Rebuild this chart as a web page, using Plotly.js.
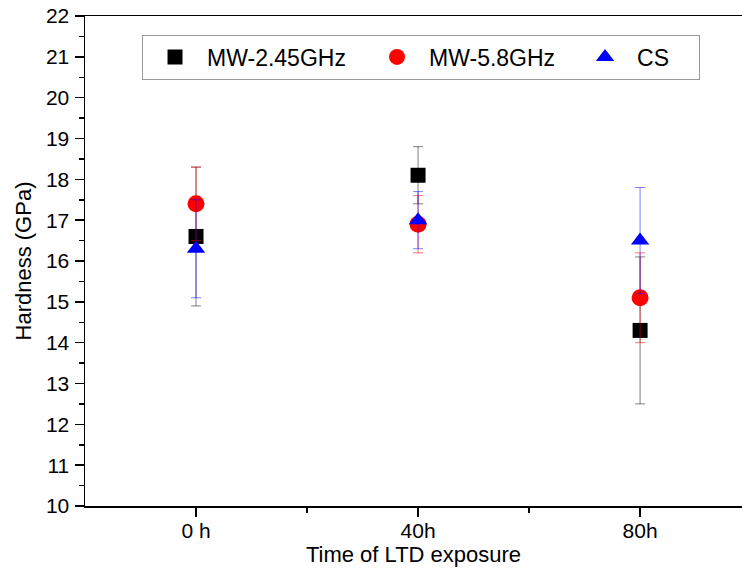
<!DOCTYPE html>
<html><head><meta charset="utf-8">
<script src="https://cdn.plot.ly/plotly-3.0.1.min.js"></script>
<style>html,body{margin:0;padding:0;background:#fff;overflow:hidden}#chart{width:742px;height:572px}</style>
</head><body><div id="chart"></div>
<script>
const categories = ['0 h', '40h', '80h'];
const catPos = [1, 2, 3];
const seriesNames = ['MW-2.45GHz', 'MW-5.8GHz', 'CS'];
const mw245 = [16.6, 18.1, 14.3];
const mw245Err = [1.7, 0.7, 1.8];
const mw58 = [17.4, 16.9, 15.1];
const mw58Err = [0.9, 0.7, 1.1];
const cs = [16.3, 17.0, 16.5];
const csErr = [1.2, 0.7, 1.3];

const FONT = '"Liberation Sans", Arial, sans-serif';

function mk(name, y, err, color, errColor, symbol, size, lw) {
  return {
    type: 'scatter', mode: 'markers', name: name,
    x: catPos, y: y,
    marker: {color: color, symbol: symbol, size: size, line: {width: 0}},
    error_y: {type: 'data', array: err, visible: true, color: errColor, thickness: 1, width: 5},
    legendwidth: lw
  };
}

const traces = [
  mk(seriesNames[0], mw245, mw245Err, '#000000', 'rgba(0,0,0,0.5)', 'square', 15, 153),
  mk(seriesNames[1], mw58, mw58Err, '#ff0000', 'rgba(255,0,0,0.55)', 'circle', 17, 139),
  mk(seriesNames[2], cs, csErr, '#0000ff', 'rgba(0,0,255,0.5)', 'triangle-up', 16, 57)
];

const layout = {
  width: 742, height: 572,
  margin: {l: 85, r: 0, t: 16, b: 66},
  paper_bgcolor: '#fff', plot_bgcolor: '#fff',
  font: {family: FONT, size: 21, color: '#000'},
  showlegend: true,
  legend: {orientation: 'h', x: 0.0868, xanchor: 'left', y: 0.9163, yanchor: 'middle',
    bordercolor: '#999', borderwidth: 1, bgcolor: '#fff', font: {family: FONT, size: 23}, itemwidth: 54},
  xaxis: {
    range: [0.5, 3.459], tickmode: 'array', tickvals: catPos, ticktext: categories,
    showgrid: false, zeroline: false, showline: true, linecolor: '#000', linewidth: 1.5, mirror: true,
    ticks: 'outside', ticklen: 9, tickwidth: 1.5, tickcolor: '#000',
    ticklabelstandoff: -4,
    tickfont: {family: FONT, size: 21},
    minor: {tickmode: 'array', tickvals: [1.5, 2.5], ticks: 'outside', ticklen: 5, tickwidth: 1.5, tickcolor: '#000'},
    title: {text: 'Time of LTD exposure', font: {family: FONT, size: 22}, standoff: 3}
  },
  yaxis: {
    range: [10, 22], tickmode: 'linear', tick0: 10, dtick: 1,
    showgrid: false, zeroline: false, showline: true, linecolor: '#000', linewidth: 1.5, mirror: false,
    ticks: 'outside', ticklen: 9, tickwidth: 1.5, tickcolor: '#000',
    ticklabelstandoff: 1,
    tickfont: {family: FONT, size: 21},
    minor: {dtick: 0.5, ticks: 'outside', ticklen: 5, tickwidth: 1.5, tickcolor: '#000'},
    title: {text: 'Hardness (GPa)', font: {family: FONT, size: 22}, standoff: 8}
  }
};

Plotly.newPlot('chart', traces, layout, {displayModeBar: false, staticPlot: true});
</script>
</body></html>
